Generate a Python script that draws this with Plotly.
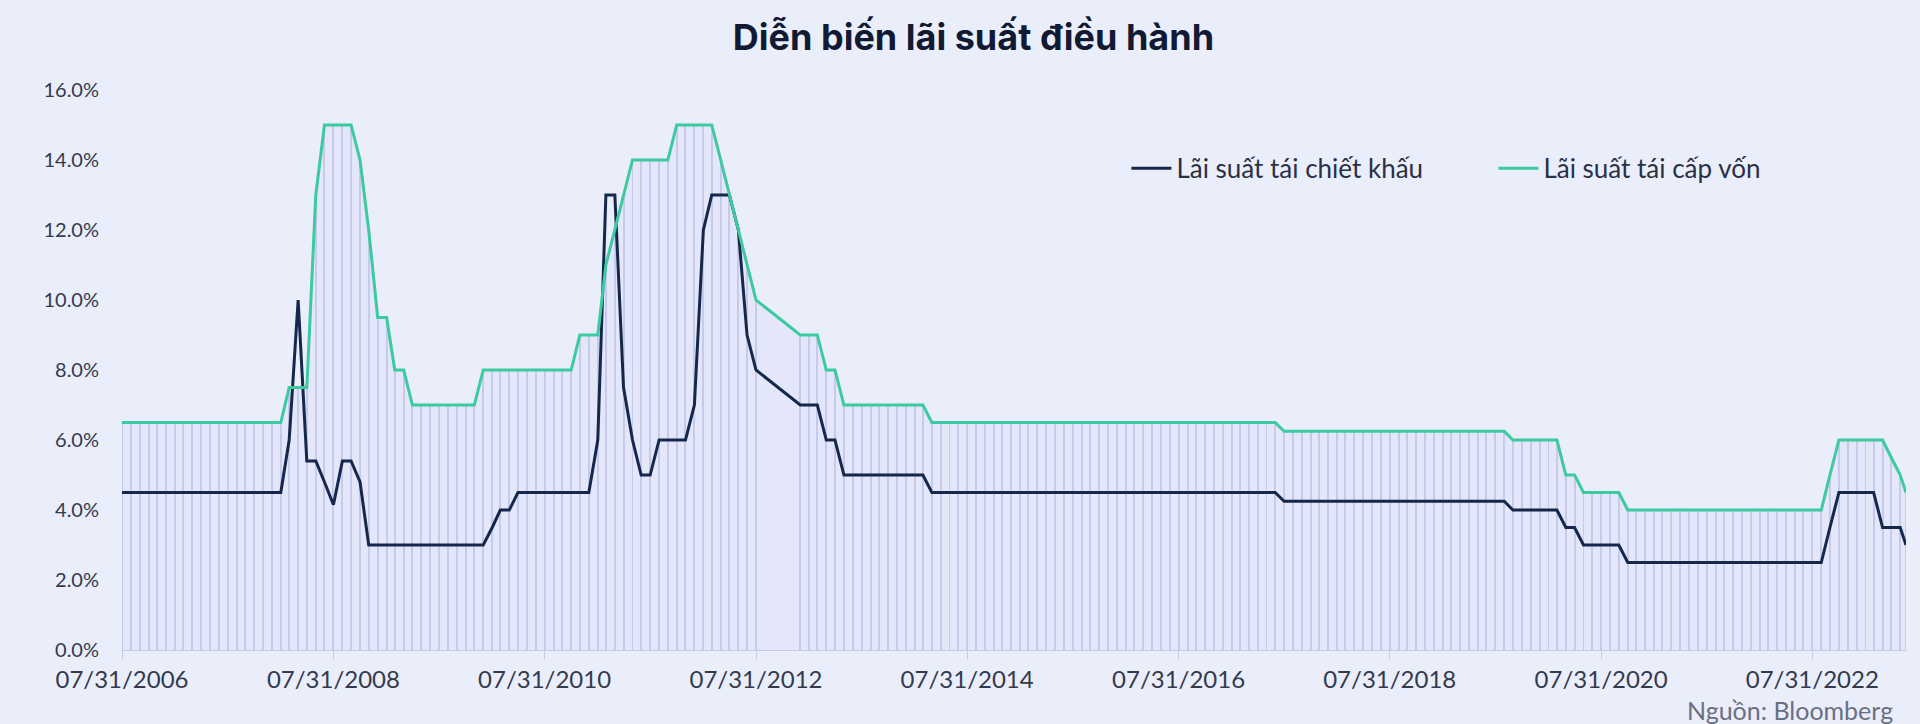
import pandas as pd
import plotly.graph_objects as go

# ---------------- data ----------------
# month-end observations from Jul 2006 to May 2023 (Aug-Nov 2012 missing in source), plus 20 Jun 2023
missing_months = ["2012-08-31", "2012-09-30", "2012-10-31", "2012-11-30"]
last_date = "2023-06-20"
dates = [d for d in pd.date_range("2006-07-31", "2023-05-31", freq="ME")
         if d.strftime("%Y-%m-%d") not in missing_months]
dates.append(pd.Timestamp(last_date))

# Lãi suất tái cấp vốn (refinancing rate, %)
refinancing = (
    [6.5, 6.5, 6.5, 6.5, 6.5, 6.5]                                        # 2006
    + [6.5, 6.5, 6.5, 6.5, 6.5, 6.5, 6.5, 6.5, 6.5, 6.5, 6.5, 6.5]        # 2007
    + [6.5, 7.5, 7.5, 7.5, 13, 15, 15, 15, 15, 14, 12, 9.5]               # 2008
    + [9.5, 8, 8, 7, 7, 7, 7, 7, 7, 7, 7, 8]                              # 2009
    + [8, 8, 8, 8, 8, 8, 8, 8, 8, 8, 9, 9]                                # 2010
    + [9, 11, 12, 13, 14, 14, 14, 14, 14, 15, 15, 15]                     # 2011
    + [15, 15, 14, 13, 12, 11, 10, 9]                                     # 2012 (Jan-Jul, Dec)
    + [9, 9, 8, 8, 7, 7, 7, 7, 7, 7, 7, 7]                                # 2013
    + [7, 7, 6.5, 6.5, 6.5, 6.5, 6.5, 6.5, 6.5, 6.5, 6.5, 6.5]            # 2014
    + [6.5, 6.5, 6.5, 6.5, 6.5, 6.5, 6.5, 6.5, 6.5, 6.5, 6.5, 6.5]        # 2015
    + [6.5, 6.5, 6.5, 6.5, 6.5, 6.5, 6.5, 6.5, 6.5, 6.5, 6.5, 6.5]        # 2016
    + [6.5, 6.5, 6.5, 6.5, 6.5, 6.5, 6.25, 6.25, 6.25, 6.25, 6.25, 6.25]  # 2017
    + [6.25, 6.25, 6.25, 6.25, 6.25, 6.25, 6.25, 6.25, 6.25, 6.25, 6.25, 6.25]  # 2018
    + [6.25, 6.25, 6.25, 6.25, 6.25, 6.25, 6.25, 6.25, 6, 6, 6, 6]        # 2019
    + [6, 6, 5, 5, 4.5, 4.5, 4.5, 4.5, 4.5, 4, 4, 4]                      # 2020
    + [4, 4, 4, 4, 4, 4, 4, 4, 4, 4, 4, 4]                                # 2021
    + [4, 4, 4, 4, 4, 4, 4, 4, 5, 6, 6, 6]                                # 2022
    + [6, 6, 6, 5.5, 5, 4.5]                                              # 2023
)

# Lãi suất tái chiết khấu (rediscount rate, %)
rediscount = (
    [4.5, 4.5, 4.5, 4.5, 4.5, 4.5]                                        # 2006
    + [4.5, 4.5, 4.5, 4.5, 4.5, 4.5, 4.5, 4.5, 4.5, 4.5, 4.5, 4.5]        # 2007
    + [4.5, 6, 10, 5.4, 5.4, 4.8, 4.15, 5.4, 5.4, 4.8, 3, 3]              # 2008
    + [3, 3, 3, 3, 3, 3, 3, 3, 3, 3, 3, 3]                                # 2009
    + [3.5, 4, 4, 4.5, 4.5, 4.5, 4.5, 4.5, 4.5, 4.5, 4.5, 4.5]            # 2010
    + [6, 13, 13, 7.5, 6, 5, 5, 6, 6, 6, 6, 7]                            # 2011
    + [12, 13, 13, 13, 12, 9, 8, 7]                                       # 2012 (Jan-Jul, Dec)
    + [7, 7, 6, 6, 5, 5, 5, 5, 5, 5, 5, 5]                                # 2013
    + [5, 5, 4.5, 4.5, 4.5, 4.5, 4.5, 4.5, 4.5, 4.5, 4.5, 4.5]            # 2014
    + [4.5, 4.5, 4.5, 4.5, 4.5, 4.5, 4.5, 4.5, 4.5, 4.5, 4.5, 4.5]        # 2015
    + [4.5, 4.5, 4.5, 4.5, 4.5, 4.5, 4.5, 4.5, 4.5, 4.5, 4.5, 4.5]        # 2016
    + [4.5, 4.5, 4.5, 4.5, 4.5, 4.5, 4.25, 4.25, 4.25, 4.25, 4.25, 4.25]  # 2017
    + [4.25, 4.25, 4.25, 4.25, 4.25, 4.25, 4.25, 4.25, 4.25, 4.25, 4.25, 4.25]  # 2018
    + [4.25, 4.25, 4.25, 4.25, 4.25, 4.25, 4.25, 4.25, 4, 4, 4, 4]        # 2019
    + [4, 4, 3.5, 3.5, 3, 3, 3, 3, 3, 2.5, 2.5, 2.5]                      # 2020
    + [2.5, 2.5, 2.5, 2.5, 2.5, 2.5, 2.5, 2.5, 2.5, 2.5, 2.5, 2.5]        # 2021
    + [2.5, 2.5, 2.5, 2.5, 2.5, 2.5, 2.5, 2.5, 3.5, 4.5, 4.5, 4.5]        # 2022
    + [4.5, 4.5, 3.5, 3.5, 3.5, 3]                                        # 2023
)

x_tick_dates = ["2006-07-31", "2008-07-31", "2010-07-31", "2012-07-31", "2014-07-31",
                "2016-07-31", "2018-07-31", "2020-07-31", "2022-07-31"]
x_tick_labels = ["07/31/2006", "07/31/2008", "07/31/2010", "07/31/2012", "07/31/2014",
                 "07/31/2016", "07/31/2018", "07/31/2020", "07/31/2022"]
y_tick_vals = [0, 2, 4, 6, 8, 10, 12, 14, 16]
y_tick_labels = ["0.0%", "2.0%", "4.0%", "6.0%", "8.0%", "10.0%", "12.0%", "14.0%", "16.0%"]

title_text = "Diễn biến lãi suất điều hành"
name_rediscount = "Lãi suất tái chiết khấu"
name_refinancing = "Lãi suất tái cấp vốn"
source_text = "Nguồn: Bloomberg"

# ---------------- figure ----------------
BG = "#eaeefb"
NAVY = "#15284c"
GREEN = "#3ccaa0"
FONT = "Lato"

fig = go.Figure()

# faint area under the refinancing line
fig.add_trace(go.Scatter(
    x=dates, y=refinancing, mode="lines", line=dict(width=0, color="rgba(0,0,0,0)"),
    fill="tozeroy", fillcolor="rgba(205,210,242,0.22)", showlegend=False, hoverinfo="skip"))

# vertical hatch lines at every observation
fig.add_trace(go.Bar(
    x=dates, y=refinancing, width=3.4 * 86400000,
    marker=dict(color="#c6cae9", line=dict(width=0)),
    showlegend=False, hoverinfo="skip"))

fig.add_trace(go.Scatter(
    x=dates, y=rediscount, mode="lines", name=name_rediscount,
    line=dict(color=NAVY, width=3)))
fig.add_trace(go.Scatter(
    x=dates, y=refinancing, mode="lines", name=name_refinancing,
    line=dict(color=GREEN, width=3)))

fig.update_layout(
    width=1920, height=724,
    margin=dict(l=122, r=14, t=90, b=74, autoexpand=False),
    paper_bgcolor=BG, plot_bgcolor=BG,
    font=dict(family=FONT, size=20, color="#343a4e"),
    bargap=0,
    title=dict(text="<b>" + title_text + "</b>", x=0.507, xref="container", xanchor="center",
               y=1 - 37 / 724, yref="container", yanchor="middle",
               font=dict(family="Inter", size=36, color="#121a33")),
    legend=dict(orientation="h", x=0.563, xanchor="left", y=0.86, yanchor="middle",
                bgcolor="rgba(0,0,0,0)", font=dict(family=FONT, size=26, color="#2a3045"),
                entrywidth=312, entrywidthmode="pixels", itemwidth=40, tracegroupgap=0),
    xaxis=dict(type="date", range=[dates[0], dates[-1]],
               tickvals=x_tick_dates, ticktext=x_tick_labels,
               showgrid=False, zeroline=False, showline=True, linecolor="#c8cbe7", linewidth=1,
               ticks="outside", ticklen=8, tickcolor="#c8cbe7", tickwidth=1,
               tickfont=dict(family=FONT, size=24, color="#343a4e")),
    yaxis=dict(range=[0, 16], tickvals=y_tick_vals, ticktext=y_tick_labels,
               showgrid=False, zeroline=False, showline=False, ticks="",
               ticklabelstandoff=22,
               tickfont=dict(family=FONT, size=20, color="#343a4e")),
    annotations=[dict(text=source_text, xref="paper", yref="paper", x=0.994, y=-0.107,
                      xanchor="right", yanchor="middle", showarrow=False,
                      font=dict(family=FONT, size=25, color="#6b6f82"))],
)

fig.write_html("out.html")
